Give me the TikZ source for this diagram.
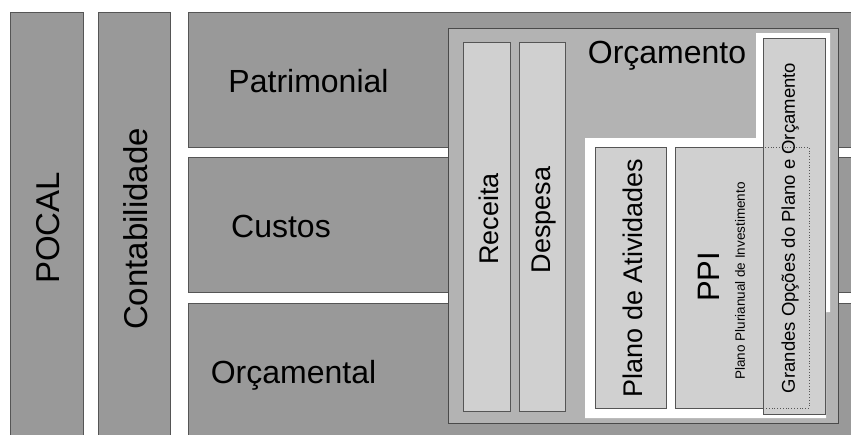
\documentclass[tikz,border=0pt]{standalone}
\usepackage{fontspec}
\setmainfont{Liberation Sans}
\begin{document}
\begin{tikzpicture}[x=1pt,y=-1pt,
  block/.style={draw=edgegray, line width=0.9pt, inner sep=0pt, outer sep=0pt,
    anchor=north west, rectangle},
  rowbox/.style={block, fill=rowgray},
  midbox/.style={block, fill=midgray, draw=darkedge},
  leafbox/.style={block, fill=leafgray},
  bigtext/.style={font=\fontsize{32}{36}\selectfont, inner sep=0pt},
  sidetext/.style={font=\fontsize{33}{38}\selectfont, inner sep=0pt, rotate=90},
  bartext/.style={font=\fontsize{27}{31}\selectfont, inner sep=0pt, rotate=90},
]
\definecolor{rowgray}{HTML}{999999}
\definecolor{midgray}{HTML}{B3B3B3}
\definecolor{leafgray}{HTML}{D0D0D0}
\definecolor{edgegray}{HTML}{555555}
\definecolor{darkedge}{HTML}{4A4A4A}

\useasboundingbox (0,0) rectangle (851,434);
\fill[white] (0,0) rectangle (851,434);

% left columns
\node[rowbox, minimum width=73pt, minimum height=440pt] (pocal) at (10,12) {};
\node[rowbox, minimum width=72pt, minimum height=440pt] (contab) at (98,12) {};
\node[sidetext] (pocaltxt) at (48.5,228) {POCAL};
\node[sidetext] (contabtxt) at (136,229) {Contabilidade};

% accounting rows
\node[rowbox, minimum width=680pt, minimum height=135pt] (patr) at (188,12) {};
\node[rowbox, minimum width=680pt, minimum height=135pt] (cust) at (188,157) {};
\node[rowbox, minimum width=680pt, minimum height=145pt] (orcl) at (188,303) {};
\node[bigtext, anchor=base] (patrtxt) at (308.5,92) {Patrimonial};
\node[bigtext, anchor=base] (custtxt) at (281,237) {Custos};
\node[bigtext, anchor=base] (orcltxt) at (293.5,383) {Orçamental};

% budget block
\node[midbox, minimum width=390pt, minimum height=395pt] (orc) at (448,28) {};
\node[bigtext, anchor=base] (orctxt) at (667,63) {Orçamento};

% white planning area
\fill[white] (585,138) -- (756,138) -- (756,33) -- (830,33) -- (830,312)
  -- (826,312) -- (826,418) -- (585,418) -- cycle;

% revenue and expense bars
\node[leafbox, minimum width=47pt, minimum height=369pt] (rec) at (463,42) {};
\node[leafbox, minimum width=46pt, minimum height=369pt] (desp) at (519,42) {};
\node[bartext] (rectxt) at (489,219) {Receita};
\node[bartext] (desptxt) at (544,220) {Despesa};

% planning instruments
\node[leafbox, minimum width=71pt, minimum height=261pt] (plano) at (595,147) {};
\node[leafbox, minimum width=134pt, minimum height=261pt] (ppi) at (675,147) {};
\node[leafbox, minimum width=62pt, minimum height=376pt] (gop) at (763,38) {};
\draw[edgegray, line width=0.8pt, dotted]
  (ppi.north -| gop.west) ++(2,0) -- (ppi.north east) -- (ppi.south east) -- ([xshift=2pt]ppi.south -| gop.west);

\node[bartext] (planotxt) at (633,278) {Plano de Atividades};
\node[font=\fontsize{31}{35}\selectfont, inner sep=0pt, rotate=90] (ppitxt) at (709,277) {PPI};
\node[font=\fontsize{13.5}{16}\selectfont, inner sep=0pt, rotate=90] (ppisub) at (740,281) {Plano Plurianual de Investimento};
\node[font=\fontsize{18.5}{22}\selectfont, inner sep=0pt, rotate=90] (goptxt) at (790,228) {Grandes Opções do Plano e Orçamento};
\end{tikzpicture}
\end{document}
